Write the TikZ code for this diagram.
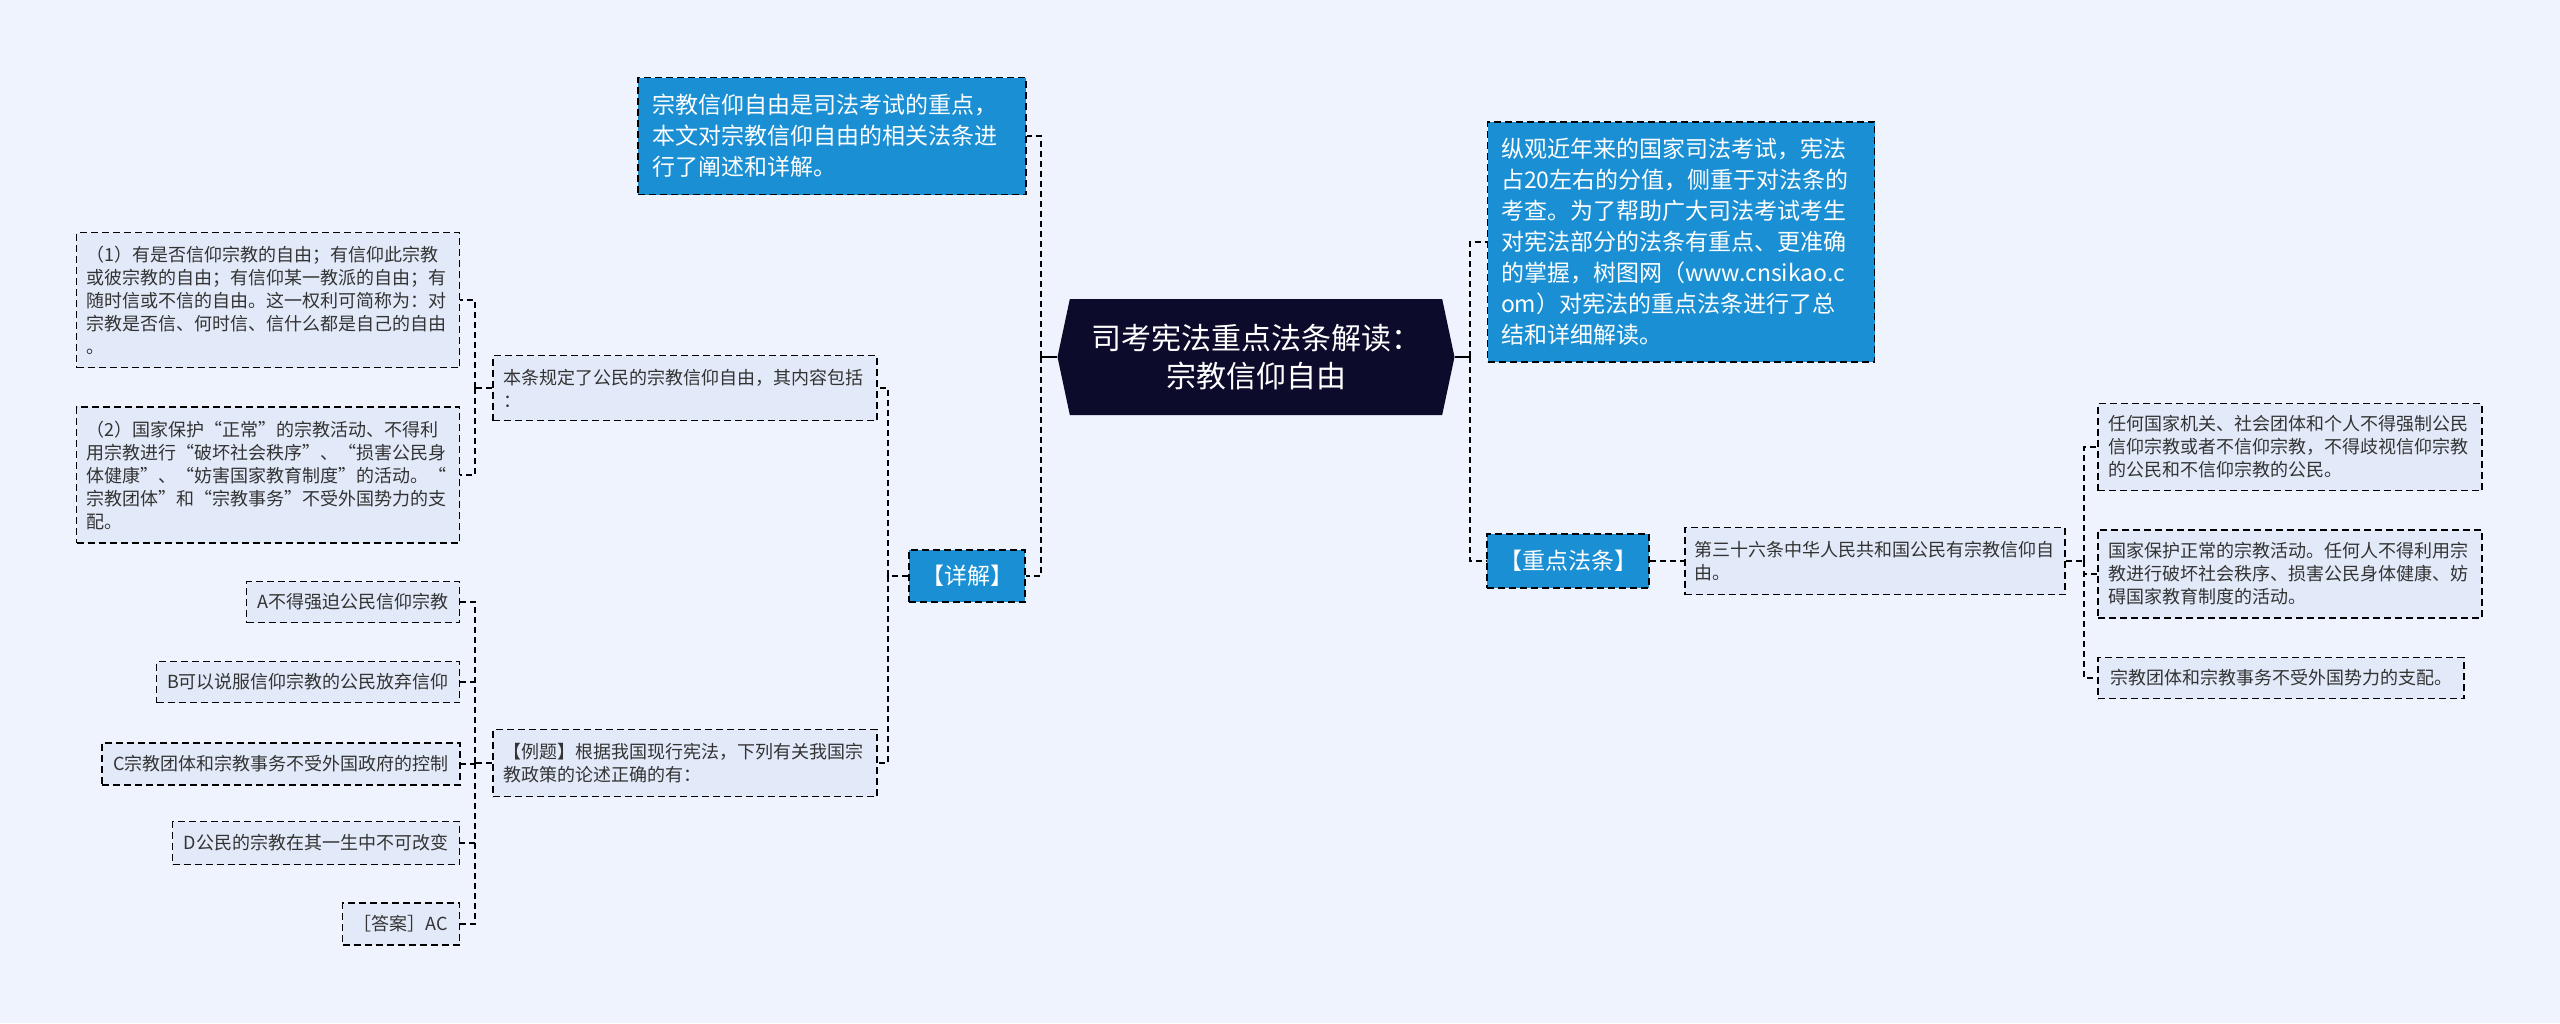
\documentclass[tikz,border=0pt]{standalone}
\usepackage{fontspec}
\setmainfont{Noto Sans CJK SC}
\usetikzlibrary{shapes.symbols}
\definecolor{bgc}{HTML}{EEF3FD}
\definecolor{leafc}{HTML}{E2EAF9}
\definecolor{bluec}{HTML}{1A8FD3}
\definecolor{rootc}{HTML}{0C0B2C}
\definecolor{textc}{HTML}{333333}
\begin{document}
\begin{tikzpicture}[x=1pt,y=-1pt,
  link/.style={draw=black, line width=2pt, dash pattern=on 6pt off 4pt},
  stub/.style={draw=black, line width=2pt},
  leaf/.style={draw=black, line width=1.8pt, dash pattern=on 7pt off 4pt, fill=leafc, text=textc,
    inner sep=0pt, font=\fontsize{18}{23}\selectfont, align=left},
  keybox/.style={leaf, fill=bluec, text=white, font=\fontsize{23}{31}\selectfont},
  rootbox/.style={signal, signal to=west and east, signal pointer angle=156, fill=rootc, text=white,
    inner sep=0pt, align=center, font=\fontsize{30}{38}\selectfont}]
  \fill[bgc] (0,0) rectangle (2560,1023);
  \useasboundingbox (0,0) rectangle (2560,1023);
  \node[rootbox, minimum width=397, minimum height=116] (root) at (1256,357) {司考宪法重点法条解读：\\宗教信仰自由};
  \node[keybox, minimum width=388, minimum height=117, text width=360] (intro) at (832,136) {宗教信仰自由是司法考试的重点，\\本文对宗教信仰自由的相关法条进\\行了阐述和详解。};
  \node[keybox, minimum width=387, minimum height=240, text width=360] (summary) at (1681,242) {纵观近年来的国家司法考试，宪法\\占20左右的分值，侧重于对法条的\\考查。为了帮助广大司法考试考生\\对宪法部分的法条有重点、更准确\\的掌握，树图网（www.cnsikao.c\\om）对宪法的重点法条进行了总\\结和详细解读。};
  \node[keybox, minimum width=116, minimum height=52, text width=100, align=center] (detail) at (967,576) {【详解】};
  \node[keybox, minimum width=162, minimum height=54, text width=145, align=center] (keylaw) at (1568,561) {【重点法条】};
  \node[leaf, minimum width=380, minimum height=67, text width=362] (art36) at (1875,561) {第三十六条中华人民共和国公民有宗教信仰自\\由。};
  \node[leaf, minimum width=384, minimum height=87, text width=364] (rule1) at (2290,447) {任何国家机关、社会团体和个人不得强制公民\\信仰宗教或者不信仰宗教，不得歧视信仰宗教\\的公民和不信仰宗教的公民。};
  \node[leaf, minimum width=384, minimum height=88, text width=364] (rule2) at (2290,574) {国家保护正常的宗教活动。任何人不得利用宗\\教进行破坏社会秩序、损害公民身体健康、妨\\碍国家教育制度的活动。};
  \node[leaf, minimum width=366, minimum height=41, text width=346, align=center] (rule3) at (2281,678) {宗教团体和宗教事务不受外国势力的支配。};
  \node[leaf, minimum width=384, minimum height=65, text width=364] (content) at (685,388) {本条规定了公民的宗教信仰自由，其内容包括\\：};
  \node[leaf, minimum width=383, minimum height=135, text width=363] (item1) at (268,300) {（1）有是否信仰宗教的自由；有信仰此宗教\\或彼宗教的自由；有信仰某一教派的自由；有\\随时信或不信的自由。这一权利可简称为：对\\宗教是否信、何时信、信什么都是自己的自由\\。};
  \node[leaf, minimum width=383, minimum height=136, text width=363] (item2) at (268,475) {（2）国家保护“正常”的宗教活动、不得利\\用宗教进行“破坏社会秩序”、“损害公民身\\体健康”、“妨害国家教育制度”的活动。“\\宗教团体”和“宗教事务”不受外国势力的支\\配。};
  \node[leaf, minimum width=384, minimum height=67, text width=364] (example) at (685,763) {【例题】根据我国现行宪法，下列有关我国宗\\教政策的论述正确的有：};
  \node[leaf, minimum width=213, minimum height=41, text width=195, align=center] (optA) at (353,602) {A不得强迫公民信仰宗教};
  \node[leaf, minimum width=303, minimum height=41, text width=285, align=center] (optB) at (308,682) {B可以说服信仰宗教的公民放弃信仰};
  \node[leaf, minimum width=358, minimum height=42, text width=340, align=center] (optC) at (281,764) {C宗教团体和宗教事务不受外国政府的控制};
  \node[leaf, minimum width=287, minimum height=43, text width=269, align=center] (optD) at (316,843) {D公民的宗教在其一生中不可改变};
  \node[leaf, minimum width=117, minimum height=42, text width=100, align=center] (answer) at (401,924) {［答案］AC};
  \draw[stub] (root.west) -- ++(-16,0) coordinate (lt);
  \draw[link] (lt) |- (intro.east);
  \draw[link] (lt) |- (detail.east);
  \draw[stub] (root.east) -- ++(15,0) coordinate (rt);
  \draw[link] (rt) |- (summary.west);
  \draw[link] (rt) |- (keylaw.west);
  \draw[link] (keylaw.east) -- (art36.west);
  \draw[link] (art36.east) -- ++(18,0) coordinate (at);
  \draw[link] (at) |- (rule1.west);
  \draw[link] (at) |- (rule2.west);
  \draw[link] (at) |- (rule3.west);
  \draw[link] (detail.west) -- ++(-20,0) coordinate (dt);
  \draw[link] (dt) |- (content.east);
  \draw[link] (dt) |- (example.east);
  \draw[link] (content.west) -- ++(-17,0) coordinate (ct);
  \draw[link] (ct) |- (item1.east);
  \draw[link] (ct) |- (item2.east);
  \draw[link] (example.west) -- ++(-17,0) coordinate (et);
  \draw[link] (et) |- (optA.east);
  \draw[link] (et) |- (optB.east);
  \draw[link] (et) |- (optC.east);
  \draw[link] (et) |- (optD.east);
  \draw[link] (et) |- (answer.east);
\end{tikzpicture}
\end{document}
